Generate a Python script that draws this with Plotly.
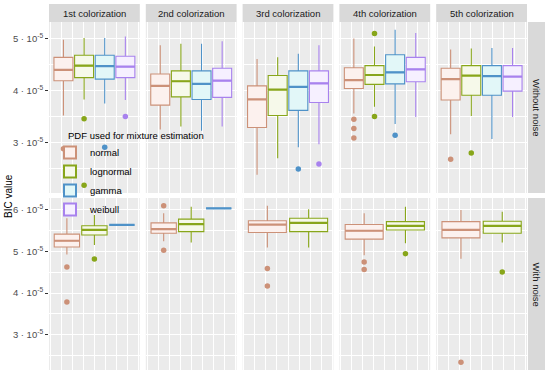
import plotly.graph_objects as go

# ---------------- data (BIC values in units of 1e-5) ----------------
colorizations = ["1st colorization", "2nd colorization", "3rd colorization",
                 "4th colorization", "5th colorization"]
noise_rows = ["Without noise", "With noise"]
pdfs = ["normal", "lognormal", "gamma", "weibull"]
y_tick_values = [3, 4, 5, 6]
y_tick_labels = ["3 \u00b7 10<sup>-5</sup>", "4 \u00b7 10<sup>-5</sup>",
                 "5 \u00b7 10<sup>-5</sup>", "6 \u00b7 10<sup>-5</sup>"]
legend_title = "PDF used for mixture estimation"
SCALE = 1e-5

# per colorization: [lower whisker, Q1, median, Q3, upper whisker]
without_normal = [[3.52, 4.19, 4.40, 4.64, 4.98], [3.25, 3.72, 4.09, 4.32, 4.87],
                  [2.38, 3.29, 3.83, 4.09, 4.61], [3.56, 4.04, 4.20, 4.44, 5.00],
                  [3.16, 3.82, 4.22, 4.43, 4.79]]
without_lognormal = [[3.83, 4.25, 4.48, 4.68, 5.01], [3.31, 3.88, 4.18, 4.38, 4.90],
                     [2.70, 3.52, 4.02, 4.29, 4.64], [3.69, 4.12, 4.30, 4.48, 4.85],
                     [3.51, 3.91, 4.29, 4.48, 4.81]]
without_gamma = [[3.75, 4.22, 4.47, 4.68, 5.01], [3.23, 3.83, 4.13, 4.38, 4.90],
                 [2.91, 3.62, 4.07, 4.38, 4.71], [3.36, 4.13, 4.35, 4.69, 5.17],
                 [3.07, 3.91, 4.28, 4.48, 4.82]]
without_weibull = [[3.82, 4.25, 4.46, 4.66, 5.04], [3.31, 3.87, 4.19, 4.43, 4.95],
                   [2.97, 3.77, 4.14, 4.38, 4.87], [3.49, 4.17, 4.41, 4.64, 5.11],
                   [3.49, 3.99, 4.27, 4.48, 4.82]]
out_without_normal = [[2.88], [], [], [3.45, 3.27, 3.09], [2.68]]
out_without_lognormal = [[3.46, 2.18], [], [], [5.10, 3.50], [2.80]]
out_without_gamma = [[2.91], [], [2.49], [3.14], []]
out_without_weibull = [[3.50], [], [2.59], [], []]

with_normal = [[4.93, 5.11, 5.26, 5.42, 5.80], [5.25, 5.44, 5.54, 5.69, 5.92],
               [5.10, 5.46, 5.65, 5.74, 6.10], [4.91, 5.30, 5.50, 5.65, 5.92],
               [4.83, 5.33, 5.52, 5.72, 6.00]]
with_lognormal = [[5.16, 5.40, 5.52, 5.62, 5.88], [5.22, 5.48, 5.66, 5.78, 6.08],
                  [5.10, 5.48, 5.69, 5.80, 6.02], [5.20, 5.52, 5.62, 5.72, 6.08],
                  [5.22, 5.44, 5.62, 5.73, 5.96]]
with_gamma = [[5.64, 5.64, 5.64, 5.64, 5.64], [6.04, 6.04, 6.04, 6.04, 6.04],
              None, None, None]
with_weibull = [None, None, None, None, None]
out_with_normal = [[4.63, 3.79], [6.10, 5.03], [4.59, 4.17], [4.75, 4.57], [2.34]]
out_with_lognormal = [[4.82], [], [], [4.95], [4.51]]
out_with_gamma = [[], [], [], [], []]
out_with_weibull = [[], [], [], [], []]

stats = {
    0: {"normal": without_normal, "lognormal": without_lognormal,
        "gamma": without_gamma, "weibull": without_weibull},
    1: {"normal": with_normal, "lognormal": with_lognormal,
        "gamma": with_gamma, "weibull": with_weibull},
}
outliers = {
    0: {"normal": out_without_normal, "lognormal": out_without_lognormal,
        "gamma": out_without_gamma, "weibull": out_without_weibull},
    1: {"normal": out_with_normal, "lognormal": out_with_lognormal,
        "gamma": out_with_gamma, "weibull": out_with_weibull},
}

# ---------------- styling ----------------
line_colors = {"normal": "#CC9178", "lognormal": "#88A61A",
               "gamma": "#4F92C8", "weibull": "#A882EE"}
fill_colors = {"normal": "#FCF1EE", "lognormal": "#F6F9EA",
               "gamma": "#E2F7F8", "weibull": "#F6F0FF"}
FONT = "Liberation Sans, Arial, Helvetica, sans-serif"
W, H = 550, 374
PANEL_BG = "#EBEBEB"

# panel geometry in pixels
x_left, x_right, gap = 49, 527, 6
pw = (x_right - x_left - 4 * gap) / 5
row_px = [(22, 193), (198, 370)]
strip_top = (4, 22)
rstrip = (528, 545)

XR = [0.5875, 1.4125]
TOTAL_W = 0.75

fig = go.Figure()
layout = dict()
shapes = []
annotations = []
shown = set()

for r in range(2):
    vals = []
    for p in pdfs:
        for c in range(5):
            s = stats[r][p][c]
            if s is not None:
                vals += s
                vals += outliers[r][p][c]
    lo, hi = min(vals), max(vals)
    pad = (hi - lo) * 0.05
    yr = [(lo - pad) * SCALE, (hi + pad) * SCALE]
    minor_vals = [v + 0.5 for v in range(2, 7)]
    for c in range(5):
        k = r * 5 + c + 1
        xs = "" if k == 1 else str(k)
        x0 = x_left + c * (pw + gap)
        x1 = x0 + pw
        ytop, ybot = row_px[r]
        layout["xaxis" + xs] = dict(
            domain=[x0 / W, x1 / W], range=XR, anchor="y" + xs,
            showticklabels=False, ticks="", zeroline=False, showline=False,
            tickvals=[0.6, 0.8, 1.0, 1.2, 1.4], showgrid=True,
            gridcolor="white", gridwidth=1.1, fixedrange=True,
            minor=dict(tickvals=[0.7, 0.9, 1.1, 1.3], showgrid=True,
                       gridcolor="white", gridwidth=0.5),
        )
        layout["yaxis" + xs] = dict(
            domain=[1 - ybot / H, 1 - ytop / H], range=yr, anchor="x" + xs,
            tickvals=[v * SCALE for v in y_tick_values], ticktext=y_tick_labels,
            showticklabels=(c == 0), ticks="outside" if c == 0 else "",
            ticklen=3, tickwidth=1, tickcolor="#333333",
            tickfont=dict(family=FONT, size=9.5, color="#4D4D4D"),
            zeroline=False, showline=False, showgrid=True, fixedrange=True,
            gridcolor="white", gridwidth=1.1,
            minor=dict(tickvals=[v * SCALE for v in minor_vals], showgrid=True,
                       gridcolor="white", gridwidth=0.5),
        )
        shapes.append(dict(type="rect", xref="x" + xs + " domain", yref="y" + xs + " domain",
                           x0=0, x1=1, y0=0, y1=1, fillcolor=PANEL_BG,
                           line=dict(width=0), layer="below"))
        if r == 0:
            shapes.append(dict(type="rect", xref="paper", yref="paper",
                               x0=x0 / W, x1=x1 / W, y0=1 - strip_top[1] / H,
                               y1=1 - strip_top[0] / H, fillcolor="#D9D9D9",
                               line=dict(width=0)))
            annotations.append(dict(xref="paper", yref="paper", x=(x0 + x1) / 2 / W,
                                    y=1 - (strip_top[0] + strip_top[1]) / 2 / H,
                                    text=colorizations[c], showarrow=False,
                                    font=dict(family=FONT, size=9.5, color="#1A1A1A"),
                                    xanchor="center", yanchor="middle"))
        present = [p for p in pdfs if stats[r][p][c] is not None]
        n = len(present)
        slot = TOTAL_W / n
        for i, p in enumerate(present):
            s = stats[r][p][c]
            pos = 1 - TOTAL_W / 2 + slot * (i + 0.5)
            bw = slot * 0.92
            fig.add_trace(go.Box(
                x=[pos], lowerfence=[s[0] * SCALE], q1=[s[1] * SCALE],
                median=[s[2] * SCALE], q3=[s[3] * SCALE], upperfence=[s[4] * SCALE],
                width=bw, whiskerwidth=0, boxpoints=False,
                line=dict(color=line_colors[p], width=1.1),
                fillcolor=fill_colors[p], name=p, legendgroup=p,
                showlegend=(p not in shown), xaxis="x" + xs, yaxis="y" + xs,
                hoverinfo="skip"))
            shown.add(p)
            fig.add_trace(go.Scatter(
                x=[pos - bw / 2, pos + bw / 2], y=[s[2] * SCALE, s[2] * SCALE],
                mode="lines", line=dict(color=line_colors[p], width=2.2),
                showlegend=False, xaxis="x" + xs, yaxis="y" + xs, hoverinfo="skip"))
            o = outliers[r][p][c]
            if o:
                fig.add_trace(go.Scatter(
                    x=[pos] * len(o), y=[v * SCALE for v in o], mode="markers",
                    marker=dict(color=line_colors[p], size=5.5),
                    showlegend=False, xaxis="x" + xs, yaxis="y" + xs, hoverinfo="skip"))
    ytop, ybot = row_px[r]
    shapes.append(dict(type="rect", xref="paper", yref="paper",
                       x0=rstrip[0] / W, x1=rstrip[1] / W, y0=1 - ybot / H, y1=1 - ytop / H,
                       fillcolor="#D9D9D9", line=dict(width=0)))
    annotations.append(dict(xref="paper", yref="paper", x=(rstrip[0] + rstrip[1]) / 2 / W,
                            y=1 - (ytop + ybot) / 2 / H, text=noise_rows[r], textangle=90,
                            showarrow=False, font=dict(family=FONT, size=9.5, color="#1A1A1A"),
                            xanchor="center", yanchor="middle"))

annotations.append(dict(xref="paper", yref="paper", x=8 / W, y=1 - 196 / H,
                        text="BIC value", textangle=-90, showarrow=False,
                        font=dict(family=FONT, size=10, color="#000000"),
                        xanchor="center", yanchor="middle"))
annotations.append(dict(xref="paper", yref="paper", x=66 / W, y=1 - 135 / H,
                        text=legend_title, showarrow=False,
                        font=dict(family=FONT, size=9.5, color="#000000"),
                        xanchor="left", yanchor="middle"))

fig.update_layout(
    width=W, height=H, margin=dict(l=0, r=0, t=0, b=0),
    paper_bgcolor="white", plot_bgcolor="rgba(0,0,0,0)",
    shapes=shapes, annotations=annotations, boxmode="overlay",
    showlegend=True,
    legend=dict(x=50 / W, y=1 - 138 / H, xanchor="left", yanchor="top",
                bgcolor="rgba(0,0,0,0)", borderwidth=0,
                font=dict(family=FONT, size=9.5, color="#000000"),
                tracegroupgap=0, itemsizing="constant"),
    **layout,
)

fig.write_html("out.html", config={"displayModeBar": False, "staticPlot": False},
               post_script="document.body.style.margin='0px';document.body.style.padding='0px';")
